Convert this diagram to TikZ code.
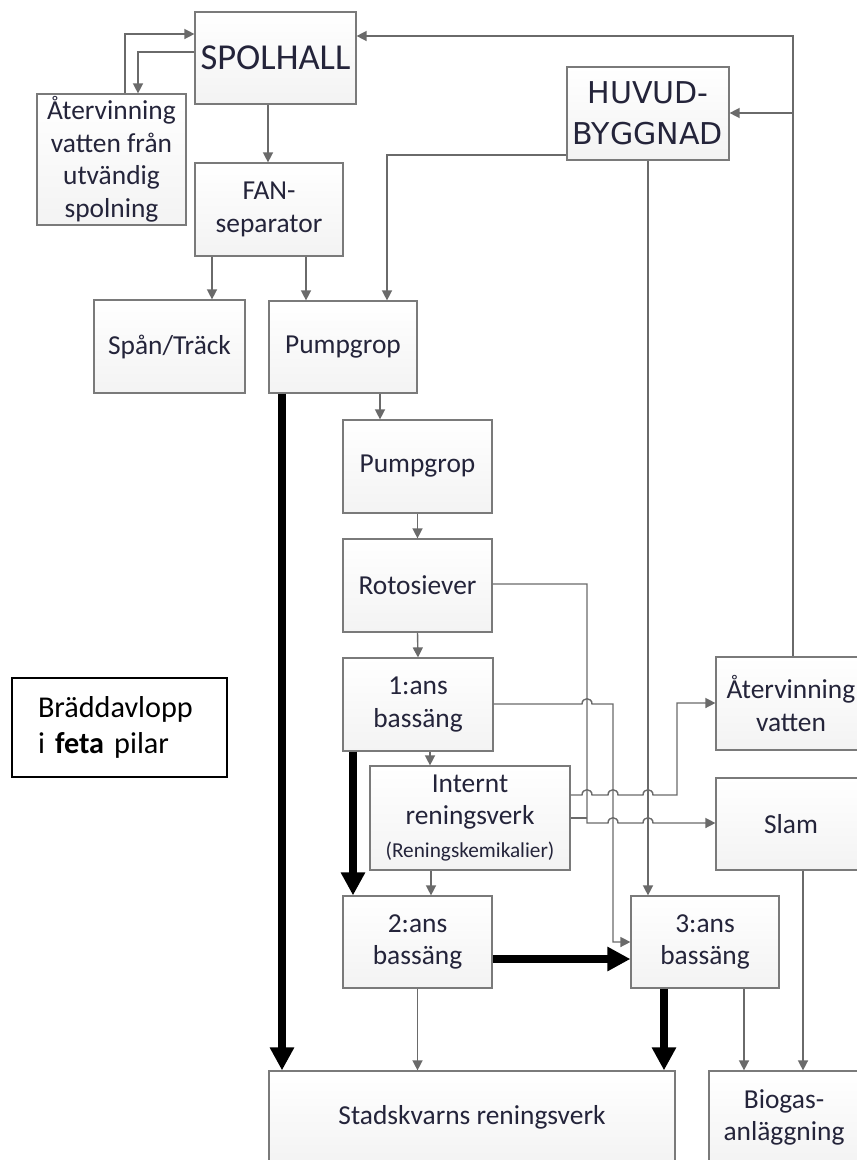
\documentclass[tikz,border=0pt]{standalone}
\usepackage{fontspec}
\setmainfont{Carlito}
\newfontfamily\huvudfont{DejaVu Sans}
\usetikzlibrary{arrows.meta}
\definecolor{boxline}{HTML}{7A7A7A}
\definecolor{flowgrey}{HTML}{6A6A6A}
\definecolor{boxshade}{HTML}{F3F3F3}
\definecolor{textdark}{HTML}{24243A}

\begin{document}
\begin{tikzpicture}[x=0.02cm, y=-0.02cm,
    box/.style={draw=boxline, line width=0.7pt, top color=white, bottom color=boxshade, text=textdark, align=center, inner sep=1pt, minimum width=2.98cm, minimum height=1.86cm, font=\fontsize{15.6}{18.5}\selectfont},
    flow/.style={draw=flowgrey, line width=0.8pt, -{Triangle[length=0.2cm, width=0.2cm]}},
    overflow/.style={draw=black, line width=4.5pt, -{Triangle[length=0.46cm, width=0.46cm]}},
    linehop/.style={insert path={.. controls +(0,-7) and +(0,-7) .. ++(10,0)}}
]
\useasboundingbox (0,0) rectangle (857,1160);
\clip (0,0) rectangle (857,1160);
\fill[white] (0,0) rectangle (857,1160);

% Top
\node[box, minimum width=3.22cm, minimum height=1.84cm, font=\fontsize{20.8}{24}\selectfont] (spolhall) at (275.5,58) {SPOLHALL};
\node[box, minimum height=2.62cm] (atervinut) at (111.5,159.5) {Återvinning\\vatten från\\utvändig\\spolning};
\node[box, minimum width=3.24cm, font=\huvudfont\fontsize{17.1}{23.3}\selectfont] (huvud) at (648,113.5) {HUVUD-\\BYGGNAD};
\node[box, minimum width=2.96cm] (fan) at (269,209.5) {FAN-\\separator};
\node[box, minimum width=3.02cm] (spantrack) at (169.5,346.5) {Spån/Träck};
\node[box, minimum width=2.96cm, minimum height=1.84cm] (pump1) at (343,347) {Pumpgrop};

% Main line
\node[box] (pump2) at (417.5,466.5) {Pumpgrop};
\node[box] (roto) at (417.5,585.5) {Rotosiever};
\node[box, minimum width=3cm] (bas1) at (418,704.5) {1:ans\\bassäng};
\node[box, minimum width=4cm, minimum height=2.08cm] (intern) at (470,818) {Internt\\reningsverk\\{\fontsize{12.1}{14}\selectfont(Reningskemikalier)}};
\node[box, minimum height=1.84cm] (bas2) at (417.5,942) {2:ans\\bassäng};
\node[box, minimum width=2.96cm, minimum height=1.84cm] (bas3) at (705,942) {3:ans\\bassäng};

% Right side
\node[box, minimum width=3cm] (atervat) at (791,703.5) {Återvinning\\vatten};
\node[box, minimum width=3cm, minimum height=1.84cm] (slam) at (791,824) {Slam};

% Bottom
\node[box, minimum width=8.12cm] (stad) at (472,1117.5) {Stadskvarns reningsverk};
\node[box, minimum width=3cm] (biogas) at (784,1117.5) {Biogas-\\anläggning};

% Legend
\node[draw=black, line width=1.1pt, fill=white, minimum width=4.3cm, minimum height=1.98cm, text width=3.26cm, align=left, font=\fontsize{17.2}{20.5}\selectfont] (legend) at (119.5,727.5) {Bräddavlopp\\i \textbf{feta} pilar};

% Thin flows
\draw[flow] (atervinut.north -| 125,0) |- (spolhall.west |- 0,34);
\draw[flow] (spolhall.west |- 0,52) -| (atervinut.north -| 138,0);
\draw[flow] (spolhall.south -| 268,0) -- (fan.north -| 268,0);
\draw[flow] (fan.south -| 212,0) -- (spantrack.north -| 212,0);
\draw[flow] (fan.south -| 306,0) -- (pump1.north -| 306,0);
\draw[flow] (huvud.west |- 0,155) -| (pump1.north -| 387,0);
\draw[flow] (pump1.south -| 380,0) -- (pump2.north -| 380,0);
\draw[flow] (pump2.south) -- (roto.north);
\draw[flow] (roto.south) -- (bas1.north);
\draw[flow] (bas1.south -| 430,0) -- (intern.north -| 430,0);
\draw[flow] (intern.south -| 431,0) -- (bas2.north -| 431,0);
\draw[flow] (bas2.south) -- (bas2.south |- stad.north);
\draw[flow] (huvud.south) -- (huvud.south |- bas3.north);
\draw[flow] (bas3.south -| 744,0) -- (biogas.north -| 744,0);
\draw[flow] (slam.south -| 803,0) -- (biogas.north -| 803,0);

% Return water
\draw[flow] (atervat.north -| 793,0) |- (spolhall.east |- 0,36);
\coordinate (retjoin) at (793,113);
\draw[flow] (retjoin) -- (huvud.east |- retjoin);

% Crossing lines
\draw[flow] (roto.east |- 0,584) -| (587,823) -- (608,823) [linehop] -- (643,823) [linehop] -- (slam.west |- 0,823);
\draw[draw=flowgrey, line width=0.8pt] (intern.east |- 0,818) -- (587,818);
\draw[flow] (intern.east |- 0,795) -- (582,795) [linehop] -- (608,795) [linehop] -- (643,795) [linehop] -- (677,795) |- (atervat.west |- 0,703);
\draw[flow] (bas1.east |- 0,704) -- (582,704) [linehop] -- (613,704) |- (bas3.west |- 0,942);

% Overflow
\draw[overflow] (pump1.south -| 282,0) -- (stad.north -| 282,0);
\draw[overflow] (bas1.south -| 353,0) -- (bas2.north -| 353,0);
\draw[overflow] (bas2.east |- 0,959) -- (bas3.west |- 0,959);
\draw[overflow] (bas3.south -| 664,0) -- (stad.north -| 664,0);
\end{tikzpicture}
\end{document}
